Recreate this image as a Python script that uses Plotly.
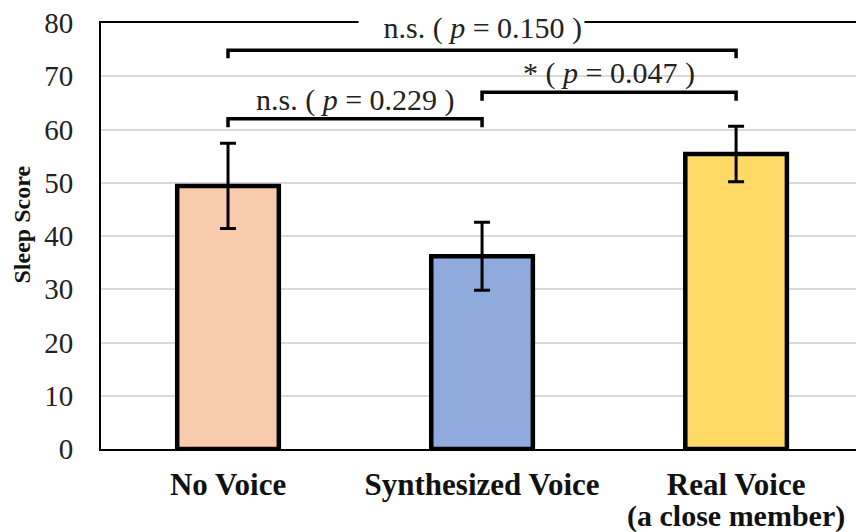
import plotly.graph_objects as go

categories = ["No Voice", "Synthesized Voice", "Real Voice (a close member)"]
tick_line1 = ["No Voice", "Synthesized Voice", "Real Voice"]
tick_line2 = ["", "", "(a close member)"]
means = [49.4, 36.2, 55.4]
errors = [8.0, 6.4, 5.2]
colors = ["#F8CBAD", "#8FAADC", "#FFD966"]
y_ticks = [0, 10, 20, 30, 40, 50, 60, 70, 80]
y_title = "Sleep Score"

# comparisons: (from index, to index, bracket height, tail drop, label, label y)
comparisons = [
    (0, 2, 74.9, 1.5, "n.s. ( <i>p</i> = 0.150 )", 79.1),
    (1, 2, 67.0, 1.6, "* ( <i>p</i> = 0.047 )", 70.6),
    (0, 1, 62.0, 1.6, "n.s. ( <i>p</i> = 0.229 )", 65.5),
]

font_family = "Liberation Serif, Times New Roman, serif"

fig = go.Figure()
fig.add_trace(go.Bar(
    x=categories, y=means,
    marker=dict(color=colors, line=dict(color="black", width=4.5)),
    width=0.4,
    error_y=dict(type="data", array=errors, visible=True, color="black",
                 thickness=3, width=8),
    showlegend=False,
))

for a, b, yb, drop, label, ly in comparisons:
    fig.add_trace(go.Scatter(
        x=[categories[a], categories[a], categories[b], categories[b]],
        y=[yb - drop, yb, yb, yb - drop],
        mode="lines", line=dict(color="black", width=3.5),
        showlegend=False, hoverinfo="skip",
    ))
    top = (b - a == 2)
    fig.add_annotation(
        x=(a + b) / 2, y=ly, xref="x", yref="y",
        text=("&nbsp;" * 3 + label) if top else label,
        xshift=-11 if top else 0,
        showarrow=False,
        font=dict(family=font_family, size=30, color="#222"),
        bgcolor="white" if top else "rgba(0,0,0,0)", borderpad=2,
    )

for i, t in enumerate(tick_line2):
    if t:
        fig.add_annotation(
            x=i, y=0, xref="x", yref="paper", text=t, showarrow=False,
            yanchor="middle", yshift=-67,
            font=dict(family=font_family, size=30, color="#111", weight="bold"),
        )

# y-axis title
fig.add_annotation(
    x=0, y=0.527, xref="paper", yref="paper", text="<b>" + y_title + "</b>",
    textangle=-90, showarrow=False, xshift=-79, xanchor="center", yanchor="middle",
    font=dict(family=font_family, size=24, color="#111"),
)

fig.update_layout(
    width=856, height=532,
    margin=dict(l=101, r=0, t=23, b=83),
    paper_bgcolor="white", plot_bgcolor="white",
    font=dict(family=font_family, color="#222"),
)
fig.update_xaxes(
    range=[-0.5, 2.472], showline=True, linecolor="black", linewidth=2,
    mirror=True, showgrid=False, ticks="",
    tickvals=categories, ticktext=tick_line1,
    tickfont=dict(family=font_family, size=31, color="#111", weight="bold"),
    ticklabelstandoff=7,
)
fig.update_yaxes(
    range=[0, 80], tickvals=y_ticks, showline=True, linecolor="black",
    linewidth=2, showgrid=True, gridcolor="#d9d9d9", gridwidth=2,
    zeroline=False, ticks="",
    tickfont=dict(family=font_family, size=29, color="#222"),
    ticklabelstandoff=20,
)

fig.write_html("out.html")
